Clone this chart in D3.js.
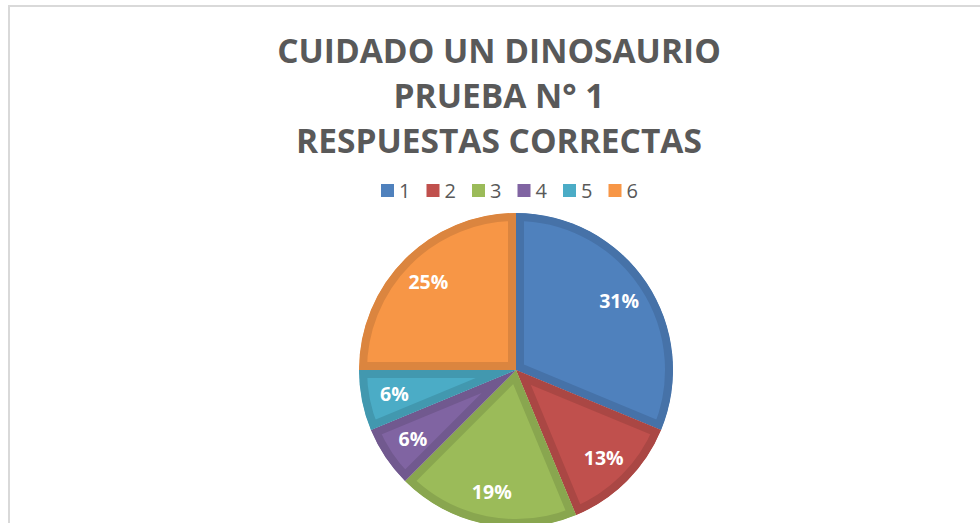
<!DOCTYPE html>
<html>
<head>
<meta charset="utf-8">
<script src="https://cdn.jsdelivr.net/npm/d3@7"></script>
<style>
  body { margin: 0; background: #fff; }
  svg { display: block; }
</style>
</head>
<body>
<div id="chart"></div>
<script>
// chart data
var titleLines = ["CUIDADO UN DINOSAURIO", "PRUEBA N° 1", "RESPUESTAS CORRECTAS"];
var categories = ["1", "2", "3", "4", "5", "6"];
var values = [5, 2, 3, 1, 1, 4];
var fills = ["#4F81BD", "#C0504D", "#9BBB59", "#8064A2", "#4BACC6", "#F79646"];
var borders = ["#4672A8", "#AA4744", "#89A64F", "#71598F", "#4298AF", "#DB853F"];

var W = 980, H = 523;
var cx = 516, cy = 370, radius = 157;

var svg = d3.select("#chart")
  .append("svg")
  .attr("width", W)
  .attr("height", H);

// chart frame (runs off the right and bottom)
svg.append("rect")
  .attr("x", 9).attr("y", 6)
  .attr("width", 1200).attr("height", 800)
  .attr("fill", "#fff")
  .attr("stroke", "#d9d9d9")
  .attr("stroke-width", 2);

// title
svg.append("g")
  .selectAll("text")
  .data(titleLines)
  .join("text")
  .attr("x", 499)
  .attr("y", function (d, i) { return 63 + i * 45; })
  .attr("text-anchor", "middle")
  .attr("font-family", "'Open Sans', sans-serif")
  .attr("font-weight", "bold")
  .attr("font-size", 33.5)
  .attr("fill", "#595959")
  .text(function (d) { return d; });

// legend
var legend = svg.append("g")
  .selectAll("g")
  .data(categories)
  .join("g")
  .attr("transform", function (d, i) { return "translate(" + (381 + i * 45.5) + ",184)"; });

legend.append("rect")
  .attr("width", 13).attr("height", 13)
  .attr("fill", function (d, i) { return fills[i]; });

legend.append("text")
  .attr("x", 18).attr("y", 14)
  .attr("font-family", "'Open Sans', sans-serif")
  .attr("font-size", 20)
  .attr("fill", "#595959")
  .text(function (d) { return d; });

// pie
var total = d3.sum(values);
var pie = d3.pie().sort(null).value(function (d) { return d; });
var arcs = pie(values);
var arc = d3.arc().innerRadius(0).outerRadius(radius);

var g = svg.append("g").attr("transform", "translate(" + cx + "," + cy + ")");
var defs = svg.append("defs");

arcs.forEach(function (a, i) {
  defs.append("clipPath").attr("id", "clip" + i)
    .append("path").attr("d", arc(a));
});

g.selectAll("path.slice")
  .data(arcs)
  .join("path")
  .attr("class", "slice")
  .attr("d", arc)
  .attr("fill", function (d, i) { return fills[i]; })
  .attr("stroke", function (d, i) { return borders[i]; })
  .attr("stroke-width", 16)
  .attr("stroke-linejoin", "miter")
  .attr("clip-path", function (d, i) { return "url(#clip" + i + ")"; });

// data labels
var labelArc = d3.arc().innerRadius(124).outerRadius(124);
g.selectAll("text.lbl")
  .data(arcs)
  .join("text")
  .attr("class", "lbl")
  .attr("transform", function (d) { return "translate(" + labelArc.centroid(d) + ")"; })
  .attr("dy", "0.36em")
  .attr("text-anchor", "middle")
  .attr("font-family", "'Open Sans', sans-serif")
  .attr("font-weight", "bold")
  .attr("font-size", 19.5)
  .attr("fill", "#fff")
  .text(function (d) { return Math.round(d.value / total * 100) + "%"; });
</script>
</body>
</html>
